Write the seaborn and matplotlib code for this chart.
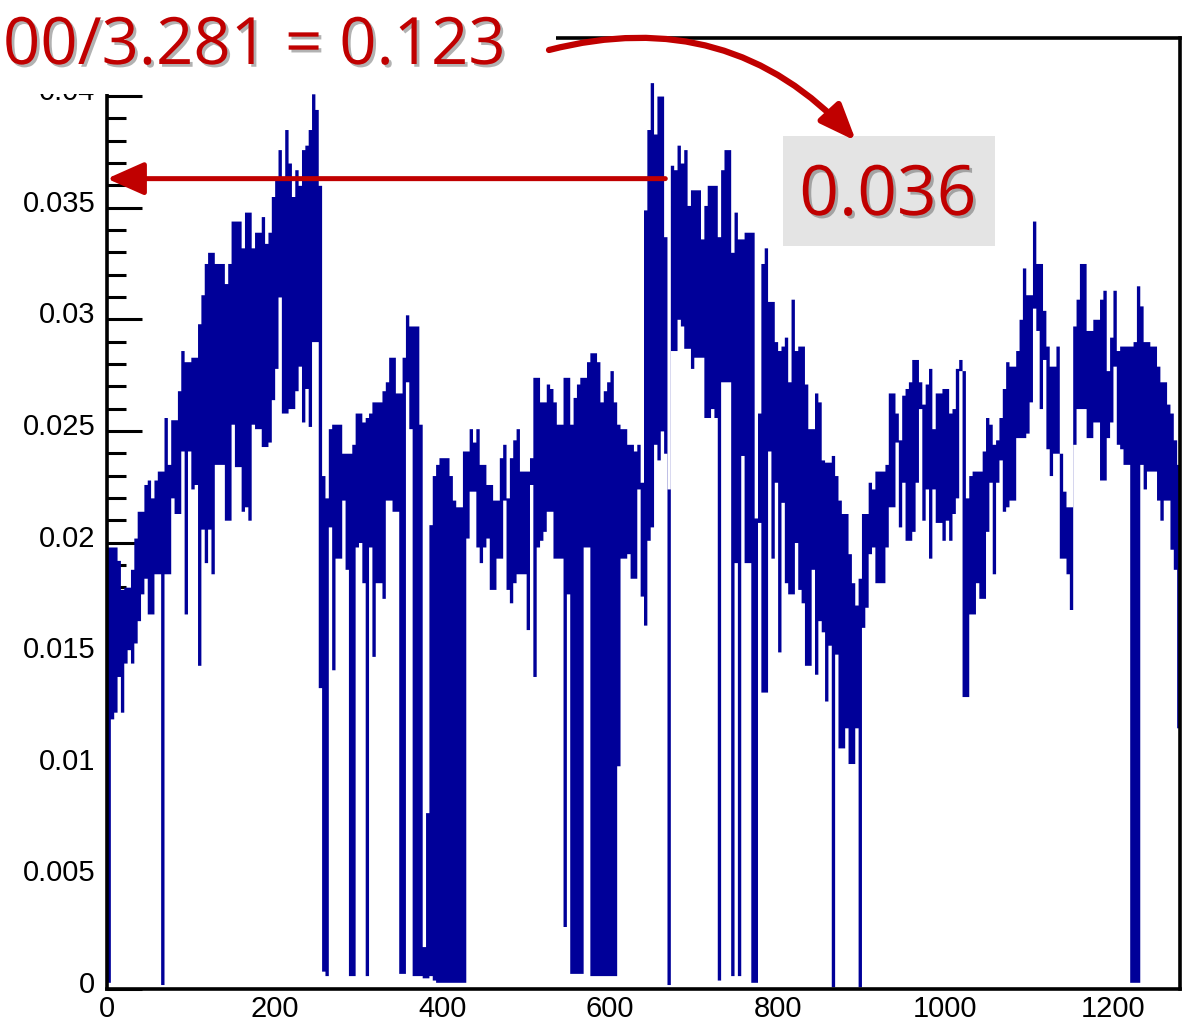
import numpy as np
import pandas as pd
import matplotlib
matplotlib.use("Agg")
import matplotlib.pyplot as plt
import matplotlib.patheffects as pe
import matplotlib.transforms as mtransforms
from matplotlib import font_manager
from matplotlib.patches import Rectangle, FancyArrowPatch
from matplotlib.ticker import MultipleLocator, FuncFormatter
import seaborn as sns

# =====================================================
# Data, values in units of 1e-3
# each bin is drawn as a segment from lo to hi
# =====================================================

bin_width = 4
x_max = 1280

hi_vals = [
    19.8, 19.8, 19.8, 19.2, 17.9, 18.0, 18.0, 18.8, 20.2, 21.4,
    21.4, 22.6, 22.8, 22.0, 22.8, 23.2, 23.2, 25.6, 23.5, 25.5,
    25.5, 26.8, 28.6, 28.1, 28.1, 28.3, 28.3, 29.8, 31.1, 32.5,
    33.0, 33.0, 32.5, 32.5, 32.5, 31.6, 32.5, 34.4, 34.4, 34.4,
    33.2, 34.8, 34.8, 33.2, 33.9, 33.9, 34.6, 33.4, 33.9, 35.5,
    36.3, 37.6, 36.3, 38.5, 37.0, 35.5, 36.7, 36.0, 37.6, 37.8,
    38.5, 40.1, 39.4, 36.0, 23.0, 22.0, 25.1, 25.3, 25.3, 25.3,
    24.0, 24.0, 24.0, 24.4, 25.8, 25.8, 25.4, 25.6, 25.8, 26.3,
    26.3, 26.3, 26.8, 27.2, 28.3, 28.3, 26.7, 26.7, 28.3, 30.2,
    29.7, 29.7, 29.7, 25.3, 1.9, 7.9, 20.8, 23.0, 23.5, 23.8,
    23.8, 23.8, 23.0, 21.9, 21.6, 21.6, 24.1, 24.1, 25.1, 24.5,
    25.1, 23.5, 23.5, 22.6, 22.6, 21.9, 21.9, 23.8, 24.4, 22.0,
    23.8, 24.6, 25.1, 23.2, 23.2, 23.2, 23.8, 27.4, 27.4, 26.3,
    26.3, 27.1, 26.9, 26.3, 25.3, 25.3, 27.4, 27.4, 25.3, 26.5,
    27.1, 27.4, 27.4, 28.1, 28.5, 28.5, 28.1, 26.3, 26.8, 27.2,
    27.7, 26.3, 25.3, 25.1, 25.1, 24.4, 24.4, 24.1, 24.4, 22.7,
    34.9, 38.5, 40.6, 38.3, 40.0, 40.0, 33.7, 22.4, 36.9, 36.7,
    37.8, 37.0, 37.6, 35.1, 35.8, 35.8, 35.8, 33.6, 35.1, 36.0,
    36.0, 36.0, 33.7, 36.7, 37.6, 37.6, 33.0, 34.8, 33.6, 33.6,
    33.9, 33.9, 33.9, 21.1, 25.8, 32.5, 33.2, 30.8, 30.8, 29.0,
    28.6, 28.8, 29.2, 27.2, 30.9, 28.6, 28.8, 28.8, 27.1, 25.1,
    25.1, 26.7, 26.3, 23.7, 23.6, 23.6, 23.9, 23.0, 21.9, 21.3,
    21.3, 19.5, 18.2, 17.2, 18.4, 21.3, 21.3, 22.7, 22.4, 23.2,
    23.2, 23.2, 23.5, 26.7, 26.7, 25.8, 24.6, 26.6, 26.9, 27.2,
    28.2, 28.2, 27.2, 26.2, 27.1, 27.8, 25.1, 26.7, 26.7, 26.9,
    26.9, 25.8, 26.0, 27.8, 28.2, 27.7, 22.0, 23.0, 23.2, 23.2,
    23.2, 24.1, 25.6, 25.3, 24.4, 24.6, 25.6, 26.9, 28.1, 27.9,
    27.9, 28.6, 30.0, 32.3, 31.1, 31.1, 34.4, 32.5, 32.5, 30.4,
    28.8, 27.9, 27.9, 28.8, 24.0, 22.3, 21.6, 21.6, 29.7, 30.9,
    32.5, 32.5, 29.5, 29.5, 30.0, 30.0, 30.9, 31.3, 27.7, 29.2,
    31.3, 28.6, 28.8, 28.8, 28.8, 28.8, 29.0, 31.5, 30.6, 29.0,
    29.0, 28.8, 28.8, 27.9, 27.2, 27.2, 26.2, 25.8, 24.6, 23.5,
]

lo_vals = [
    0.3, 12.1, 12.4, 14.0, 12.4, 14.6, 15.2, 14.6, 15.5, 16.5,
    17.7, 18.4, 16.8, 16.8, 18.6, 18.6, 0.2, 18.6, 18.6, 22.0,
    21.3, 21.3, 24.1, 16.8, 24.1, 22.4, 22.6, 14.5, 20.6, 19.1,
    20.6, 18.6, 23.5, 23.5, 23.5, 21.0, 21.0, 25.3, 23.4, 23.4,
    21.4, 21.6, 21.0, 25.3, 25.1, 25.1, 24.3, 24.3, 24.5, 26.4,
    27.8, 31.0, 25.8, 25.8, 26.0, 26.0, 26.8, 27.9, 25.4, 26.9,
    25.2, 29.0, 29.0, 13.5, 0.8, 0.6, 20.7, 14.3, 19.3, 19.3,
    21.9, 18.8, 0.6, 0.6, 19.8, 20.0, 18.2, 0.6, 19.8, 14.9,
    18.2, 18.2, 17.5, 21.9, 21.9, 21.4, 21.4, 0.7, 0.7, 27.2,
    25.1, 0.6, 0.6, 0.6, 0.5, 0.5, 0.6, 0.4, 0.3, 0.3,
    0.3, 0.3, 0.3, 0.3, 0.3, 0.3, 0.3, 20.2, 22.3, 22.3,
    19.8, 19.1, 19.8, 20.2, 17.9, 17.9, 19.3, 19.3, 21.9, 17.9,
    17.3, 18.2, 18.6, 18.6, 18.6, 16.1, 22.6, 14.0, 19.8, 20.1,
    20.5, 21.4, 21.4, 19.3, 19.3, 19.3, 2.8, 17.7, 0.7, 0.7,
    0.7, 0.7, 19.8, 19.8, 0.6, 0.6, 0.6, 0.6, 0.6, 0.6,
    0.6, 0.6, 10.0, 19.3, 19.3, 19.5, 18.4, 18.4, 22.4, 17.6,
    16.3, 20.1, 20.7, 24.4, 23.7, 25.0, 24.0, 0.2, 28.6, 28.6,
    30.0, 29.7, 28.7, 28.7, 27.8, 28.3, 28.3, 28.3, 25.6, 25.6,
    26.0, 25.6, 0.4, 27.2, 27.2, 27.2, 0.6, 19.1, 0.6, 23.9,
    19.1, 19.1, 0.3, 0.3, 20.9, 13.3, 13.3, 24.1, 19.3, 22.7,
    15.1, 21.8, 18.2, 17.7, 17.7, 20.0, 17.9, 17.3, 14.5, 14.5,
    18.8, 14.1, 16.5, 16.0, 12.9, 15.4, 0.1, 15.0, 10.8, 10.8,
    11.7, 10.1, 10.1, 11.7, 0.1, 16.2, 17.1, 19.5, 19.8, 18.2,
    18.2, 18.2, 19.8, 21.6, 21.6, 24.5, 20.7, 22.7, 20.1, 20.1,
    20.5, 22.7, 26.0, 21.0, 22.4, 19.3, 22.4, 20.9, 20.9, 20.1,
    21.0, 20.1, 21.3, 22.0, 27.7, 13.1, 13.1, 16.8, 16.8, 18.2,
    17.5, 17.5, 20.5, 22.7, 18.6, 22.7, 23.7, 21.4, 21.6, 21.9,
    21.9, 24.7, 24.7, 24.7, 24.9, 26.3, 30.5, 29.5, 26.0, 28.2,
    24.2, 23.0, 24.0, 24.0, 19.3, 19.3, 18.6, 17.0, 24.4, 26.0,
    26.0, 26.0, 24.7, 24.7, 25.4, 25.4, 22.8, 22.8, 24.7, 25.4,
    27.9, 24.4, 24.2, 23.5, 23.5, 0.3, 0.3, 0.3, 23.5, 22.4,
    23.2, 23.2, 23.2, 21.9, 21.0, 21.9, 21.9, 19.7, 18.8, 11.7,
]

y_max = 0.0426
arrow_level = 0.0363
arrow_start_x = 666

top_text = "00/3.281 = 0.123"
box_text = "0.036"

blue = "#000099"
red = "#C00000"

# =====================================================
# Build table
# =====================================================

centers = np.arange(len(hi_vals)) * bin_width + bin_width / 2

df = pd.DataFrame({
    "x": centers,
    "hi": np.array(hi_vals) * 1e-3,
    "lo": np.array(lo_vals) * 1e-3,
})

# =====================================================
# Fonts
# =====================================================


def pick_font(names):
    for name in names:
        try:
            font_manager.findfont(name, fallback_to_default=False)
            return name
        except ValueError:
            pass
    return "DejaVu Sans"


label_font = pick_font(["Liberation Sans Narrow", "Liberation Sans"])
label_size = 25 if label_font == "Liberation Sans Narrow" else 21
big_font = pick_font(["Open Sans", "Lato", "DejaVu Sans"])

sns.set_style("white")
plt.rcParams["font.family"] = [label_font, "DejaVu Sans"]

# =====================================================
# Figure
# =====================================================

W, H = 1189, 1031
fig = plt.figure(figsize=(W / 100, H / 100), dpi=100)
ax = fig.add_axes([107 / W, 1 - 989 / H, (1180 - 107) / W, (989 - 38) / H])

# upper edge of each segment, then blank out below its lower edge
for col, colour in [("hi", blue), ("lo", "white")]:
    sns.histplot(data=df, x="x", weights=col, binwidth=bin_width,
                 binrange=(0, x_max), element="step", fill=True,
                 color=colour, alpha=1, linewidth=0, ax=ax)

ax.set_xlim(0, x_max)
ax.set_ylim(0, y_max)
ax.set_xlabel("")
ax.set_ylabel("")

ax.xaxis.set_major_locator(MultipleLocator(200))
ax.xaxis.set_minor_locator(MultipleLocator(50))
ax.yaxis.set_major_locator(MultipleLocator(0.005))
ax.yaxis.set_minor_locator(MultipleLocator(0.001))
ax.yaxis.set_major_formatter(FuncFormatter(lambda v, p: f"{v:g}"))

ax.tick_params(axis="both", which="both", direction="in", top=False,
               right=False, left=True, bottom=True, color="black",
               labelcolor="black")
ax.tick_params(axis="y", which="major", length=25, width=2.2, pad=8.5,
               labelsize=label_size)
ax.tick_params(axis="y", which="minor", length=14, width=2.2)
ax.tick_params(axis="x", which="major", length=24, width=2.0, pad=4,
               labelsize=label_size)
ax.tick_params(axis="x", which="minor", length=12, width=2.0)

for side in ["left", "right", "top", "bottom"]:
    ax.spines[side].set_visible(True)
    ax.spines[side].set_color("black")
    ax.spines[side].set_linewidth(2.6)

# y labels sit a little above their ticks in the original
lift = mtransforms.ScaledTranslation(0, 5 / 72, fig.dpi_scale_trans)
for lbl in ax.get_yticklabels():
    lbl.set_transform(lbl.get_transform() + lift)

# horizontal arrow to the y axis
ax.annotate(
    "",
    xy=(0, arrow_level),
    xytext=(arrow_start_x, arrow_level),
    arrowprops=dict(
        arrowstyle="-|>,head_length=0.9,head_width=0.4",
        color=red,
        lw=3.6,
        mutation_scale=25,
        shrinkA=0,
        shrinkB=0,
    ),
    annotation_clip=False,
    zorder=10,
)

# =====================================================
# Overlay annotations (figure pixels)
# =====================================================

shadow = [pe.SimplePatchShadow(offset=(2, -2), shadow_rgbFace="#555555",
                               alpha=0.45), pe.Normal()]

fig.add_artist(Rectangle((0, 1 - 94 / H), 556 / W, 94 / H,
                         transform=fig.transFigure, facecolor="white",
                         edgecolor="none", zorder=5))

fig.text(3 / W, 1 - 64 / H, top_text, ha="left", va="baseline",
         fontsize=47, color=red, family=big_font, path_effects=shadow,
         zorder=7)

fig.add_artist(Rectangle((783 / W, 1 - 246 / H), (995 - 783) / W,
                         (246 - 136) / H, transform=fig.transFigure,
                         facecolor="#E4E4E4", edgecolor="none", zorder=5))

fig.text(888 / W, 1 - 215 / H, box_text, ha="center", va="baseline",
         fontsize=50, color=red, family=big_font, path_effects=shadow,
         zorder=7)

fig.add_artist(FancyArrowPatch(
    posA=(549 / W, 1 - 50 / H),
    posB=(856 / W, 1 - 141 / H),
    transform=fig.transFigure,
    connectionstyle="arc3,rad=-0.3",
    arrowstyle="-|>,head_length=1.0,head_width=0.4",
    mutation_scale=22,
    color=red,
    lw=4.5,
    shrinkA=0,
    shrinkB=0,
    zorder=6,
))

fig.savefig("out.png", dpi=100)
plt.close(fig)
